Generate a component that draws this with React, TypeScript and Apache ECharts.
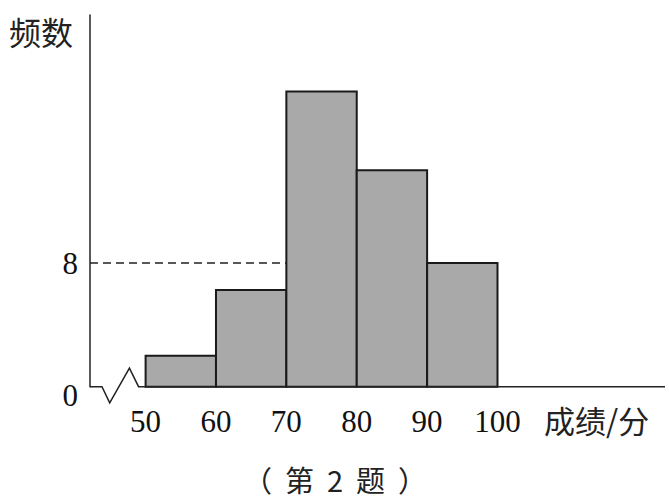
import React, { useEffect, useRef } from "react";
import * as echarts from "echarts";

const binStarts = [50, 60, 70, 80, 90];
const binWidth = 10;
const frequencies = [2, 6.25, 19.1, 14, 8];
const xTickLabels = [50, 60, 70, 80, 90, 100];
const yTickLabels = [0, 8];
const refLine = 8;

const X_MIN = 42.1;
const X_MAX = 123.8;
const Y_MAX = 24.04;

const SERIF = "'Liberation Serif', 'DejaVu Serif', serif";
const CJK = "'Noto Sans CJK SC', 'Noto Sans', sans-serif";

export default function App() {
  const ref = useRef<HTMLDivElement>(null);
  useEffect(() => {
    document.body.style.margin = "0";
    const chart = echarts.init(ref.current!, null, { renderer: "svg" });
    const barData = binStarts.map((s, i) => [s, s + binWidth, frequencies[i]]);
    chart.setOption({
      animation: false,
      backgroundColor: "#ffffff",
      grid: { left: 90, right: 4, top: 15, bottom: 115.3, containLabel: false },
      xAxis: {
        type: "value",
        min: X_MIN,
        max: X_MAX,
        axisLine: { show: false },
        axisTick: { show: false },
        splitLine: { show: false },
        axisLabel: {
          customValues: xTickLabels,
          margin: 19,
          fontSize: 31,
          fontFamily: SERIF,
          color: "#111",
        },
      },
      yAxis: {
        type: "value",
        min: 0,
        max: Y_MAX,
        axisLine: { show: true, lineStyle: { color: "#222", width: 1.5 } },
        axisTick: { show: false },
        splitLine: { show: false },
        axisLabel: {
          customValues: yTickLabels,
          margin: 12,
          fontSize: 31,
          fontFamily: SERIF,
          color: "#111",
          formatter: (v: number) => (v === 0 ? "{low|0}" : String(v)),
          rich: {
            low: { fontSize: 31, fontFamily: SERIF, color: "#111", padding: [18, 0, 0, 0] },
          },
        },
      },
      series: [
        {
          type: "custom",
          clip: false,
          data: barData,
          renderItem: (params: any, api: any) => {
            const p0 = api.coord([api.value(0), 0]);
            const p1 = api.coord([api.value(1), api.value(2)]);
            return {
              type: "rect",
              shape: { x: p0[0], y: p1[1], width: p1[0] - p0[0], height: p0[1] - p1[1] },
              style: { fill: "#a9a9a9", stroke: "#1a1a1a", lineWidth: 2 },
            };
          },
          markLine: {
            silent: true,
            symbol: "none",
            label: { show: false },
            lineStyle: { type: [8, 5], color: "#222", width: 1.5 },
            data: [[{ coord: [X_MIN, refLine] }, { coord: [70, refLine] }]],
          },
          z: 2,
        },
        {
          type: "custom",
          clip: false,
          silent: true,
          data: [[0]],
          renderItem: (params: any, api: any) => {
            const pts = [
              [X_MIN, 0],
              [43.8, 0],
              [44.9, -1.05],
              [47.7, 1.2],
              [49, 0],
              [X_MAX, 0],
            ].map((p) => api.coord(p));
            return {
              type: "polyline",
              shape: { points: pts },
              style: { fill: "none", stroke: "#222", lineWidth: 1.5 },
            };
          },
          z: 3,
        },
      ],
      graphic: [
        {
          type: "text",
          left: 9,
          top: 15,
          style: { text: "频数", fontSize: 32, fontFamily: CJK, fill: "#222" },
        },
        {
          type: "text",
          left: 544,
          top: 404,
          style: { text: "成绩/分", fontSize: 31, fontFamily: CJK, fill: "#222" },
        },
        {
          type: "text",
          left: 243,
          top: 464,
          style: { text: "（  第  2  题  ）", fontSize: 29, fontFamily: CJK, fill: "#222" },
        },
      ],
    });
    return () => chart.dispose();
  }, []);
  return <div ref={ref} style={{ width: 669, height: 502 }} />;
}
